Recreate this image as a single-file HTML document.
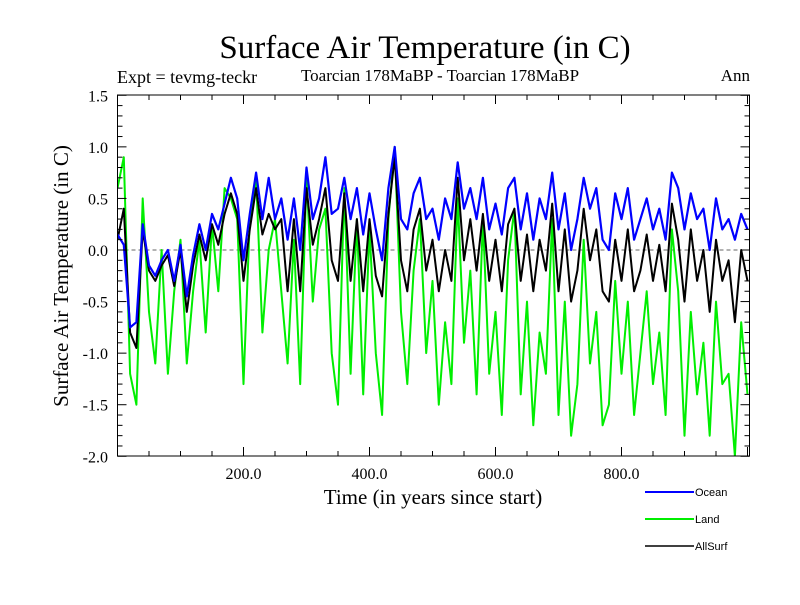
<!DOCTYPE html>
<html><head><meta charset="utf-8"><style>
body{margin:0;background:#fff;width:800px;height:600px;overflow:hidden}
svg text{font-family:"Liberation Serif",serif}
</style></head><body>
<svg id="c" width="800" height="600" xmlns="http://www.w3.org/2000/svg">
<text x="425" y="58" font-size="33" text-anchor="middle">Surface Air Temperature (in C)</text>
<text x="117" y="83" font-size="18">Expt = tevmg-teckr</text>
<text x="440" y="81" font-size="17" text-anchor="middle">Toarcian 178MaBP - Toarcian 178MaBP</text>
<text x="750" y="81" font-size="17" text-anchor="end">Ann</text>
<text transform="translate(68,276) rotate(-90)" font-size="21" text-anchor="middle">Surface Air Temperature (in C)</text>
<text x="433" y="504" font-size="21" text-anchor="middle">Time (in years since start)</text>
<defs><clipPath id="clip"><rect x="117.5" y="95" width="632" height="361"/></clipPath></defs>
<g id="plot" clip-path="url(#clip)"></g>
<g id="axes"></g>
<g font-family="Liberation Sans, sans-serif">
<line x1="645" y1="492" x2="694" y2="492" stroke="#0000ff" stroke-width="2"/>
<text x="695" y="496" font-size="11" style="font-family:'Liberation Sans',sans-serif">Ocean</text>
<line x1="645" y1="519" x2="694" y2="519" stroke="#00ee00" stroke-width="2"/>
<text x="695" y="523" font-size="11" style="font-family:'Liberation Sans',sans-serif">Land</text>
<line x1="645" y1="546" x2="694" y2="546" stroke="#000" stroke-width="1.5"/>
<text x="695" y="550" font-size="11" style="font-family:'Liberation Sans',sans-serif">AllSurf</text>
</g>
</svg>
<script>
const years = [0,10,20,30,40,50,60,70,80,90,100,110,120,130,140,150,160,170,180,190,200,210,220,230,240,250,260,270,280,290,300,310,320,330,340,350,360,370,380,390,400,410,420,430,440,450,460,470,480,490,500,510,520,530,540,550,560,570,580,590,600,610,620,630,640,650,660,670,680,690,700,710,720,730,740,750,760,770,780,790,800,810,820,830,840,850,860,870,880,890,900,910,920,930,940,950,960,970,980,990,1000];
const ocean = [0.15,0.05,-0.75,-0.7,0.25,-0.15,-0.25,-0.1,0.0,-0.3,0.05,-0.45,-0.05,0.25,0.0,0.35,0.2,0.45,0.7,0.5,-0.1,0.35,0.75,0.3,0.7,0.3,0.5,0.1,0.5,0.0,0.8,0.3,0.5,0.9,0.35,0.4,0.7,0.3,0.6,0.15,0.55,0.2,-0.1,0.6,1.0,0.3,0.2,0.55,0.7,0.3,0.4,0.1,0.5,0.3,0.85,0.4,0.6,0.3,0.7,0.2,0.45,0.15,0.6,0.7,0.2,0.55,0.1,0.5,0.3,0.75,0.2,0.55,0.0,0.3,0.7,0.4,0.6,0.1,0.0,0.55,0.3,0.6,0.1,0.3,0.5,0.2,0.4,0.1,0.75,0.6,0.2,0.55,0.3,0.4,0.0,0.5,0.2,0.3,0.1,0.35,0.2];
const allsurf = [0.1,0.4,-0.8,-0.95,0.2,-0.2,-0.3,-0.15,-0.05,-0.35,0.0,-0.6,-0.15,0.15,-0.1,0.25,0.05,0.35,0.55,0.35,-0.3,0.2,0.6,0.15,0.35,0.2,0.3,-0.4,0.3,-0.4,0.6,0.05,0.3,0.6,-0.1,-0.3,0.55,-0.3,0.3,-0.4,0.3,-0.25,-0.45,0.35,0.9,-0.1,-0.4,0.2,0.4,-0.2,0.1,-0.4,0.0,-0.3,0.7,-0.1,0.3,-0.2,0.35,-0.3,0.1,-0.4,0.25,0.4,-0.3,0.15,-0.4,0.1,-0.2,0.45,-0.4,0.2,-0.5,-0.2,0.4,-0.1,0.2,-0.4,-0.5,0.1,-0.3,0.2,-0.4,-0.2,0.15,-0.3,0.05,-0.4,0.45,0.1,-0.5,0.2,-0.3,0.0,-0.6,0.1,-0.3,-0.1,-0.7,0.0,-0.3];
const land = [0.6,0.9,-1.2,-1.5,0.5,-0.6,-1.1,0.0,-1.2,-0.4,0.1,-1.1,-0.4,0.1,-0.8,0.25,-0.4,0.6,0.5,0.3,-1.3,0.3,0.7,-0.8,0.0,0.3,-0.4,-1.1,0.1,-1.3,0.7,-0.5,0.2,0.4,-1.0,-1.5,0.6,-1.2,0.3,-1.4,0.2,-1.0,-1.6,0.3,1.0,-0.6,-1.3,-0.2,0.3,-1.0,-0.3,-1.5,-0.7,-1.3,0.5,-0.9,-0.2,-1.4,0.3,-1.2,-0.6,-1.6,-0.1,0.4,-1.4,-0.5,-1.7,-0.8,-1.2,0.3,-1.6,-0.5,-1.8,-1.3,0.1,-1.1,-0.6,-1.7,-1.5,-0.3,-1.2,-0.5,-1.6,-1.0,-0.4,-1.3,-0.8,-1.6,0.2,-0.4,-1.8,-0.6,-1.4,-0.9,-1.8,-0.5,-1.3,-1.2,-2.0,-0.7,-1.4];
const yTicks = ["1.5","1.0","0.5","0.0","-0.5","-1.0","-1.5","-2.0"];
const xTicks = ["200.0","400.0","600.0","800.0"];

const NS="http://www.w3.org/2000/svg";
const X0=117.5,X1=749.5,Y0=95,Y1=456;
const xs=v=>X0+(v)*0.63;
const ys=v=>250-v*(Y1-Y0)/3.5;
function mk(tag,at,parent){const e=document.createElementNS(NS,tag);for(const k in at)e.setAttribute(k,at[k]);parent.appendChild(e);return e;}
const plot=document.getElementById('plot'),axes=document.getElementById('axes'),svg=document.getElementById('c');
const z=mk('line',{x1:X0,x2:X1,y1:ys(0),y2:ys(0),stroke:'#666','stroke-width':1,'stroke-dasharray':'4,3'},plot);


function series(arr,color,w,name){
  const d=arr.map((v,i)=>(i?'L':'M')+xs(years[i]).toFixed(1)+','+ys(v).toFixed(1)).join('');
  const p=mk('path',{d:d,fill:'none',stroke:color,'stroke-width':w,'stroke-linejoin':'round'},plot);
  
  
}
series(land,'#00ee00',2,'land-line');
series(allsurf,'#000000',2,'allsurf-line');
series(ocean,'#0000ff',2.2,'ocean-line');
const fr=mk('rect',{x:X0,y:Y0,width:X1-X0,height:Y1-Y0,fill:'none',stroke:'#000','stroke-width':1},axes);


for(let v=-2.0;v<=1.501;v+=0.1){
  const y=ys(v),major=Math.abs(v*2-Math.round(v*2))<1e-6,L=major?9:5;
  mk('line',{x1:X0,x2:X0+L,y1:y,y2:y,stroke:'#000'},axes);
  mk('line',{x1:X1,x2:X1-L,y1:y,y2:y,stroke:'#000'},axes);
}
yTicks.forEach(t=>{
  const e=mk('text',{x:108,y:ys(parseFloat(t))+6,'font-size':16,'text-anchor':'end'},svg);
  e.textContent=t;
  
  
});
for(let v=50;v<1005;v+=50){
  const x=xs(v),L=(v%200===0)?9:5;
  mk('line',{x1:x,x2:x,y1:Y1,y2:Y1-L,stroke:'#000'},axes);
  mk('line',{x1:x,x2:x,y1:Y0,y2:Y0+L,stroke:'#000'},axes);
}
xTicks.forEach(t=>{
  const e=mk('text',{x:xs(parseFloat(t)),y:479,'font-size':16,'text-anchor':'middle'},svg);
  e.textContent=t;
  
  
});
</script>
</body></html>
